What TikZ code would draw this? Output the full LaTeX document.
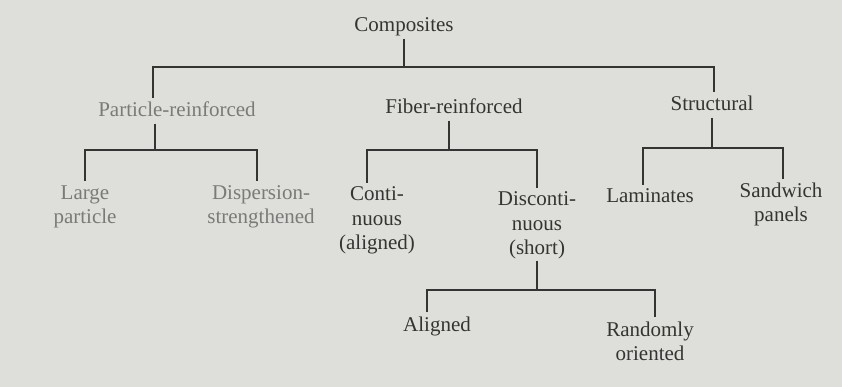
\documentclass[tikz,border=0pt]{standalone}
\usepackage{fontspec}
\setmainfont{Liberation Serif}
\usepackage{tikz}
\usetikzlibrary{positioning}
\definecolor{paper}{RGB}{222,222,218}
\definecolor{ink}{RGB}{52,52,50}
\definecolor{faded}{RGB}{122,122,120}

\begin{document}
\begin{tikzpicture}[x=1pt, y=-1pt,
		every node/.style={font=\fontsize{21}{24}\selectfont, text=ink, align=center, anchor=base, inner sep=4pt, text depth=0.25em},
		faint/.style={text=faded},
		link/.style={draw=ink, line width=1.4pt}]
		\fill[paper] (0,0) rectangle (842,387);
		\useasboundingbox (0,0) rectangle (842,387);

		% multi-line nodes sit on the baseline of their last line
		\node                   (composites)    at (404,32)  {Composites};
		\node[faint]            (particle)      at (177,117) {Particle-reinforced};
		\node                   (fiber)         at (454,114) {Fiber-reinforced};
		\node                   (structural)    at (712,111) {Structural};
		\node[faint]            (large)         at (85,223)  {Large\\particle};
		\node[faint]            (dispersion)    at (261,223) {Dispersion-\\strengthened};
		\node                   (continuous)    at (377,249) {Conti-\\nuous\\(aligned)};
		\node                   (discontinuous) at (537,254) {Disconti-\\nuous\\(short)};
		\node                   (laminates)     at (650,203) {Laminates};
		\node                   (sandwich)      at (781,222) {Sandwich\\panels};
		\node                   (aligned)       at (437,331) {Aligned};
		\node                   (randomly)      at (650,360) {Randomly\\oriented};

		% top level
		\draw[link] (composites.south) -- (composites.south |- 0,67);
		\draw[link] ([xshift=-24pt]particle.north) |- ([xshift=2pt]structural.north |- 0,67) -- ([xshift=2pt]structural.north);
		% second level
		\draw[link] ([xshift=-22pt]particle.south) -- ([xshift=-22pt]particle.south |- 0,150);
		\draw[link] (large.north) |- ([xshift=-4pt]dispersion.north |- 0,150) -- ([xshift=-4pt]dispersion.north);
		\draw[link] ([xshift=-5pt]fiber.south) -- ([xshift=-5pt]fiber.south |- 0,150);
		\draw[link] ([xshift=-10pt]continuous.north) |- (discontinuous.north |- 0,150) -- (discontinuous.north);
		\draw[link] (structural.south) -- (structural.south |- 0,148);
		\draw[link] ([xshift=-7pt]laminates.north) |- ([xshift=2pt]sandwich.north |- 0,148) -- ([xshift=2pt]sandwich.north);
		% third level
		\draw[link] (discontinuous.south) -- (discontinuous.south |- 0,290);
		\draw[link] ([xshift=-10pt]aligned.north) |- ([xshift=5pt]randomly.north |- 0,290) -- ([xshift=5pt]randomly.north);
	\end{tikzpicture}
\end{document}
